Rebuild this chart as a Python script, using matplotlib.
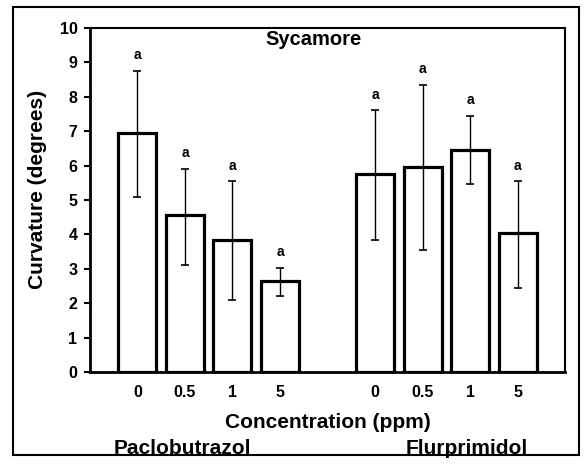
import matplotlib.pyplot as plt
from matplotlib.patches import Rectangle

plt.rcParams['font.family'] = ['Liberation Sans', 'DejaVu Sans']
plt.rcParams['font.weight'] = 'bold'

# Sycamore curvature by growth regulator and concentration
positions = [0, 1, 2, 3, 5, 6, 7, 8]
tick_labels = ['0', '0.5', '1', '5', '0', '0.5', '1', '5']
curvature = [6.95, 4.55, 3.85, 2.65, 5.75, 5.95, 6.45, 4.05]
err_low = [1.85, 1.45, 1.75, 0.45, 1.9, 2.4, 1.0, 1.6]
err_high = [1.8, 1.35, 1.7, 0.38, 1.85, 2.4, 1.0, 1.5]
letters = ['a'] * 8

fig = plt.figure(figsize=(5.88, 4.65), dpi=100)
ax = fig.add_axes([0.153, 0.2, 0.808, 0.74])

ax.bar(positions, curvature, width=0.8, color='white', edgecolor='black',
       linewidth=2.3, zorder=2)
ax.errorbar(positions, curvature, yerr=[err_low, err_high], fmt='none',
            ecolor='black', elinewidth=1, capsize=3, capthick=1.2, zorder=3)

for x, v, e, s in zip(positions, curvature, err_high, letters):
    ax.text(x, v + e + 0.45, s, ha='center', va='center', fontsize=10,
            fontweight='bold')

ax.set_xlim(-1, 9)
ax.set_ylim(0, 10)
ax.set_yticks(range(0, 11))
ax.set_xticks(positions)
ax.set_xticklabels(tick_labels)
ax.tick_params(axis='y', direction='out', length=4, width=1.5, labelsize=11.5, pad=5)
ax.tick_params(axis='x', length=0, labelsize=11.5, pad=9)
for lbl in ax.get_xticklabels() + ax.get_yticklabels():
    lbl.set_fontweight('bold')

ax.spines['left'].set_linewidth(2)
ax.spines['bottom'].set_linewidth(2)
ax.spines['top'].set_linewidth(1.5)
ax.spines['right'].set_linewidth(1.5)

ax.set_ylabel('Curvature (degrees)', fontsize=15, fontweight='bold')
ax.yaxis.set_label_coords(-0.09, 0.53)
ax.set_xlabel('Concentration (ppm)', fontsize=15, fontweight='bold', labelpad=10)
ax.text(0.47, 0.965, 'Sycamore', transform=ax.transAxes, ha='center', va='center',
        fontsize=14.5, fontweight='bold')

fig.text(182 / 588, 1 - 448 / 465, 'Paclobutrazol', ha='center', va='center',
         fontsize=15, fontweight='bold')
fig.text(467 / 588, 1 - 448 / 465, 'Flurprimidol', ha='center', va='center',
         fontsize=15, fontweight='bold')

fig.patches.append(Rectangle((13 / 588, 1 - 455 / 465), 566 / 588, 448 / 465,
                             transform=fig.transFigure, fill=False,
                             edgecolor='black', linewidth=1.5))

fig.savefig('out.png', dpi=100)
